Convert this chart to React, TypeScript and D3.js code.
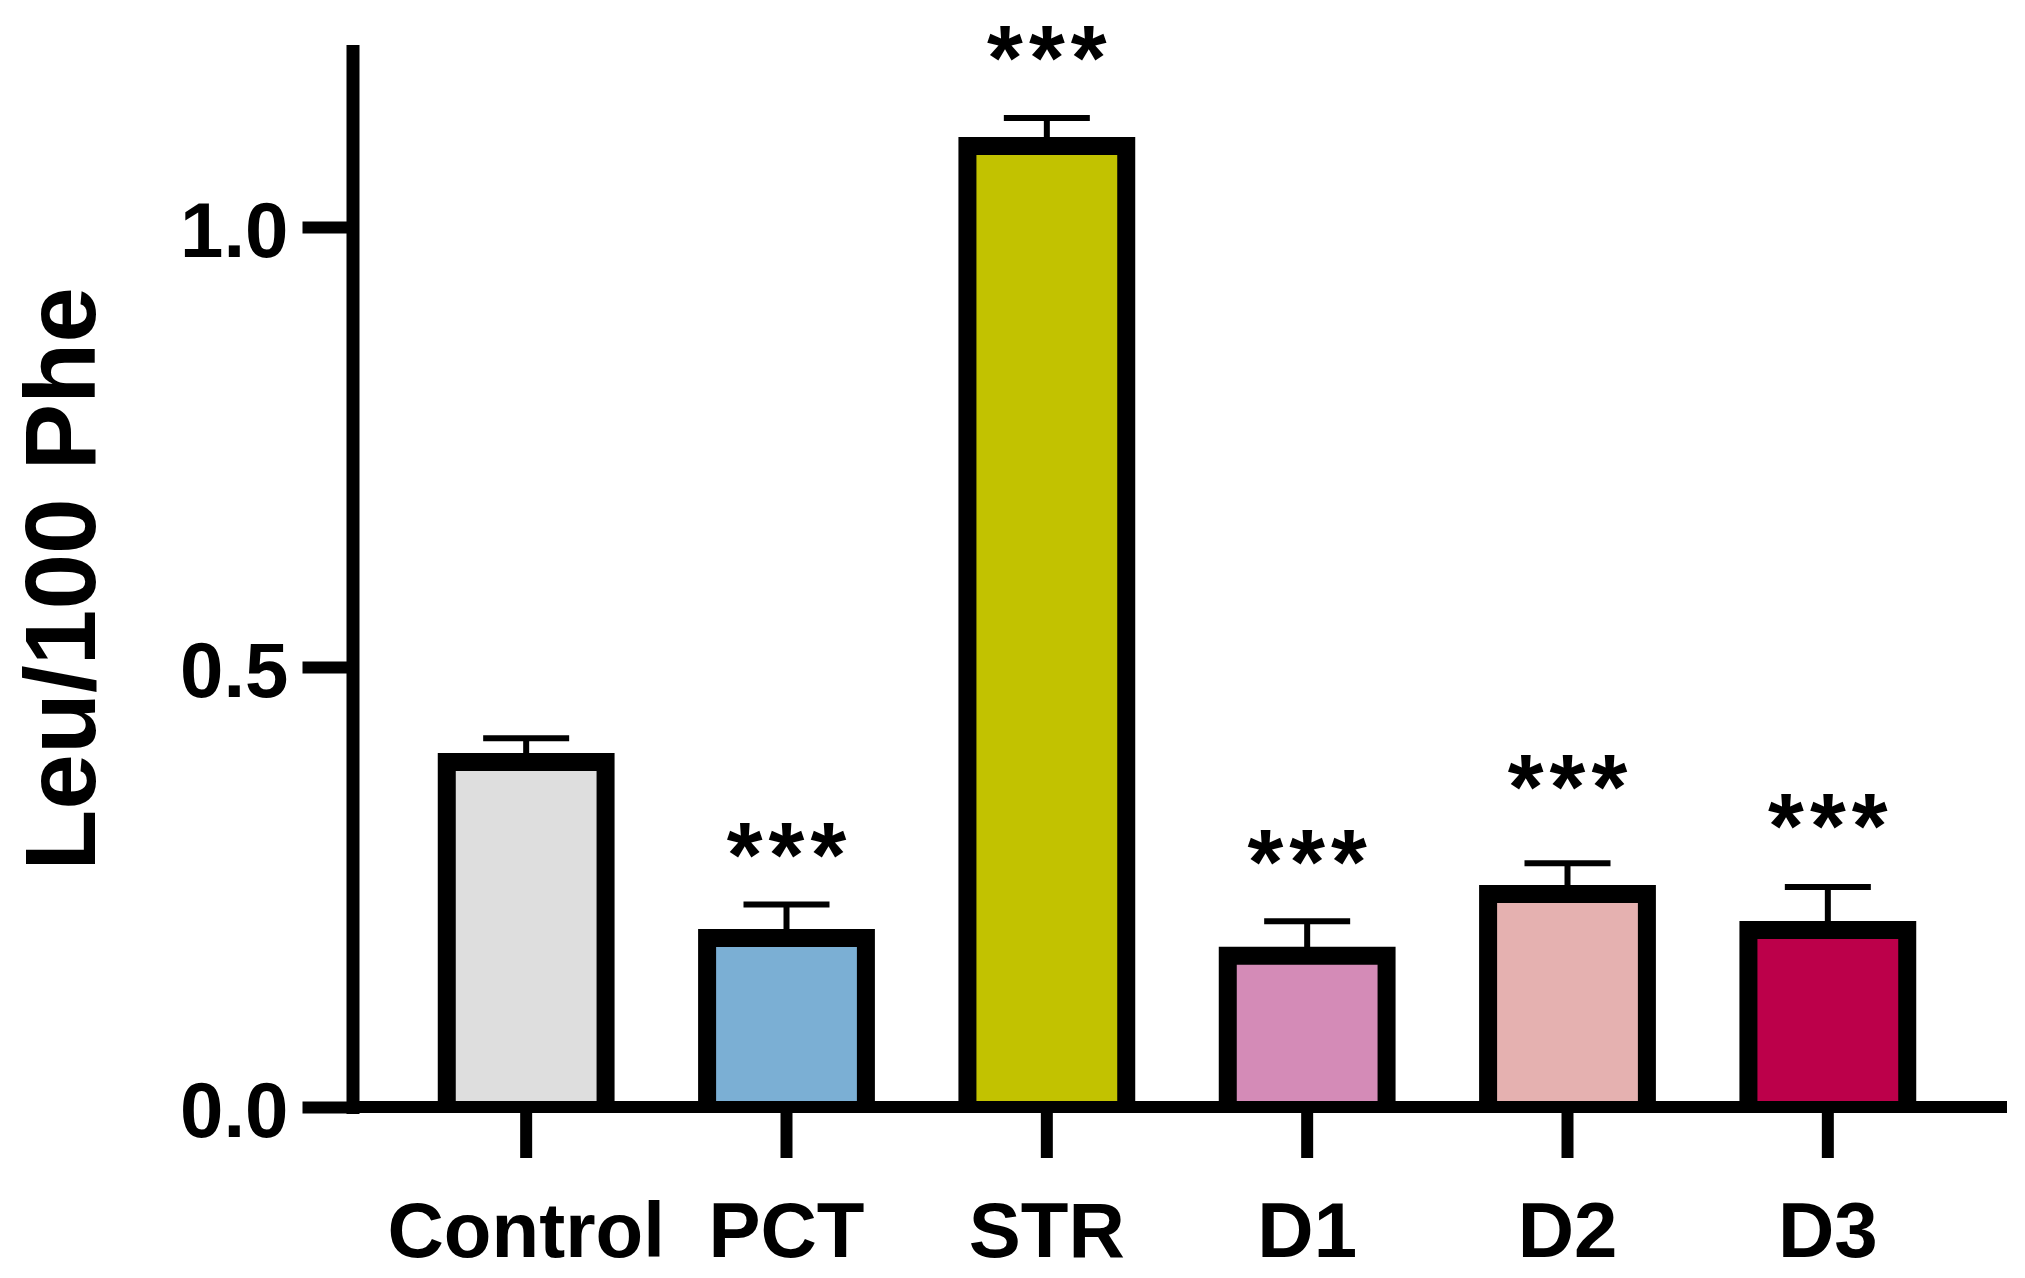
import { useEffect, useRef } from 'react';
import * as d3 from 'd3';

// Group names, mean values and error (SEM)
const categories = ['Control', 'PCT', 'STR', 'D1', 'D2', 'D3'];
const means = [0.392, 0.192, 1.092, 0.172, 0.242, 0.201];
const errors = [0.027, 0.038, 0.032, 0.039, 0.035, 0.049];
const fills = ['#dedede', '#7bafd4', '#c2c200', '#d48bb7', '#e5b1b0', '#bc004a'];

// Significance marks and the value where each mark sits
const stars = ['', '***', '***', '***', '***', '***'];
const starLevels = [0, 0.29, 1.195, 0.282, 0.367, 0.323];

const yTicks = [0, 0.5, 1.0];
const yLabel = 'Leu/100 Phe';

export default function App() {
  const svgRef = useRef<SVGSVGElement>(null);

  useEffect(() => {
    if (!svgRef.current) return;
    d3.select(svgRef.current).selectAll('*').remove();

    const W = 2025;
    const H = 1278;
    const font = '"Liberation Sans", Arial, Helvetica, sans-serif';

    // Layout
    const axisX = 352.5;
    const axisRight = 2007;
    const y0 = 1107;
    const yTop = 51;

    const svg = d3.select(svgRef.current)
      .attr('width', W)
      .attr('height', H)
      .style('font-family', font);

    svg.append('rect').attr('width', W).attr('height', H).attr('fill', '#fff');

    const yScale = d3.scaleLinear().domain([0, 1.2]).range([y0, yTop]);

    const xScale = d3.scaleBand<string>()
      .domain(categories)
      .range([396, 1958])
      .paddingInner(0.39)
      .paddingOuter(0.195);

    const bw = xScale.bandwidth();
    const data = categories.map((c, i) => ({
      cat: c,
      mean: means[i],
      err: errors[i],
      fill: fills[i],
      star: stars[i],
      level: starLevels[i]
    }));

    // Error bars (drawn first, bar outline covers the lower end)
    const errG = svg.append('g');
    data.forEach(d => {
      const cx = (xScale(d.cat) || 0) + bw / 2;
      errG.append('line')
        .attr('x1', cx).attr('x2', cx)
        .attr('y1', yScale(d.mean)).attr('y2', yScale(d.mean + d.err))
        .attr('stroke', '#000').attr('stroke-width', 6);
      errG.append('line')
        .attr('x1', cx - 43).attr('x2', cx + 43)
        .attr('y1', yScale(d.mean + d.err)).attr('y2', yScale(d.mean + d.err))
        .attr('stroke', '#000').attr('stroke-width', 6);
    });

    // Bars: open at the bottom so the outline sits on the axis
    svg.append('g')
      .selectAll('path')
      .data(data)
      .enter()
      .append('path')
      .attr('d', d => {
        const x0 = xScale(d.cat) || 0;
        const x1 = x0 + bw;
        const yt = yScale(d.mean);
        return `M${x0},${y0}L${x0},${yt}L${x1},${yt}L${x1},${y0}`;
      })
      .attr('fill', d => d.fill)
      .attr('stroke', '#000')
      .attr('stroke-width', 18)
      .attr('stroke-linejoin', 'miter');

    // Significance stars
    const spacing = 6;
    svg.append('g')
      .selectAll('text')
      .data(data.filter(d => d.star))
      .enter()
      .append('text')
      .attr('x', d => (xScale(d.cat) || 0) + bw / 2 + spacing / 2)
      .attr('y', d => yScale(d.level) + 35)
      .attr('text-anchor', 'middle')
      .attr('font-size', 92)
      .attr('font-weight', 'bold')
      .attr('letter-spacing', spacing)
      .attr('fill', '#000')
      .text(d => d.star);

    // Y axis
    const yAxis = svg.append('g')
      .attr('transform', `translate(${axisX},0)`)
      .call(d3.axisLeft(yScale)
        .tickValues(yTicks)
        .tickFormat(d3.format('.1f'))
        .tickSize(50)
        .tickSizeOuter(0)
        .tickPadding(14));
    yAxis.select('.domain')
      .attr('stroke', '#000')
      .attr('stroke-width', 13)
      .attr('stroke-linecap', 'square');
    yAxis.selectAll('.tick line').attr('stroke', '#000').attr('stroke-width', 12);
    yAxis.selectAll('.tick text')
      .attr('fill', '#000')
      .attr('font-size', 78)
      .attr('font-weight', 'bold')
      .attr('font-family', font)
      .attr('dy', '0.38em');

    // X axis line
    svg.append('line')
      .attr('x1', axisX).attr('x2', axisRight)
      .attr('y1', y0).attr('y2', y0)
      .attr('stroke', '#000').attr('stroke-width', 12);

    const xAxis = svg.append('g')
      .attr('transform', `translate(0,${y0})`)
      .call(d3.axisBottom(xScale).tickSize(51).tickSizeOuter(0).tickPadding(0));
    xAxis.select('.domain').remove();
    xAxis.selectAll('.tick line').attr('stroke', '#000').attr('stroke-width', 12);
    xAxis.selectAll('.tick text')
      .attr('fill', '#000')
      .attr('font-size', 78)
      .attr('font-weight', 'bold')
      .attr('font-family', font)
      .attr('y', 150)
      .attr('dy', 0);

    // Y axis title
    svg.append('text')
      .attr('transform', 'rotate(-90)')
      .attr('x', -(y0 + yTop) / 2)
      .attr('y', 95)
      .attr('text-anchor', 'middle')
      .attr('font-size', 100)
      .attr('font-weight', 'bold')
      .attr('fill', '#000')
      .text(yLabel);
  }, []);

  return (
    <div style={{ position: 'absolute', left: 0, top: 0 }}>
      <svg ref={svgRef} style={{ display: 'block' }} />
    </div>
  );
}
